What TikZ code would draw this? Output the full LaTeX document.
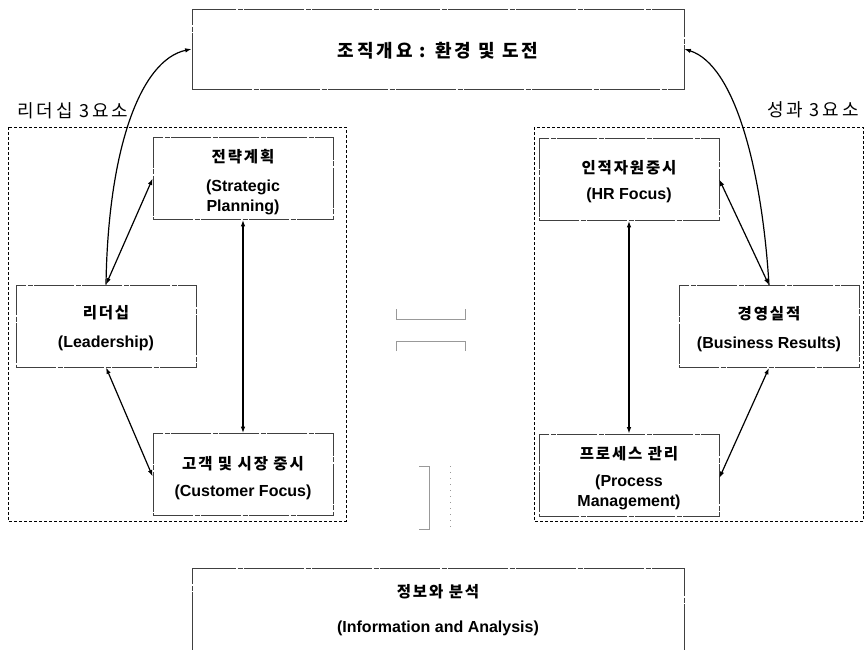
\documentclass[tikz,border=0pt]{standalone}
\usepackage{fontspec}
\setmainfont{Liberation Sans}
\newfontfamily\kr{Noto Sans CJK KR}[LetterSpace=12]
\newfontfamily\krtop{Noto Sans CJK KR}[LetterSpace=16]
\usetikzlibrary{arrows.meta}
\begin{document}
\begin{tikzpicture}[x=1pt,y=-1pt,
  box/.style={draw=black!75,line width=0.7pt,dash pattern=on 40pt off 1.5pt on 5pt off 1.5pt,inner sep=0pt,minimum width=180pt,minimum height=82pt},
  outer/.style={draw=black,line width=1pt,dash pattern=on 3pt off 2pt},
  en/.style={font=\fontsize{16}{18}\selectfont\bfseries,inner sep=0pt},
  ko/.style={font=\kr\fontsize{15.5}{18}\selectfont\bfseries,inner sep=0pt},
  lab/.style={font=\krtop\fontsize{18}{20}\selectfont,inner sep=0pt},
  arr/.style={line width=1.2pt,-{Latex[length=6.5pt,width=4.5pt]}},
  darr/.style={line width=1.2pt,{Latex[length=6.5pt,width=4.5pt]}-{Latex[length=6.5pt,width=4.5pt]}},
  faint/.style={draw=black!40,line width=0.8pt}]
\useasboundingbox (0,0) rectangle (866,649);
% top box
\node[draw=black!75,line width=0.7pt,dash pattern=on 60pt off 1.5pt on 5pt off 1.5pt,inner sep=0pt,minimum width=492pt,minimum height=80pt] (top) at (438,49) {};
\node[font=\krtop\fontsize{18}{20}\selectfont\bfseries,inner sep=0pt] (toptxt) at (438,51) {조직개요 : 환경 및 도전};
% group labels
\node[lab,anchor=west] (llab) at (17,111) {리더십 3요소};
\node[lab,anchor=east] (rlab) at (859,110) {성과 3요소};
% outer dashed boxes
\draw[outer] (8,127) rectangle (346,521);
\draw[outer] (534,127) rectangle (863,521);
% inner boxes
\node[box] (strat) at (243,178.5) {};
\node[ko] (stratk) at (243,157) {전략계획};
\node[en] (strate1) at (243,187) {(Strategic};
\node[en] (strate2) at (243,207) {Planning)};
\node[box] (lead) at (106,326) {};
\node[ko] (leadk) at (106,313) {리더십};
\node[en] (leade) at (106,343) {(Leadership)};
\node[box] (cust) at (243,474.5) {};
\node[ko] (custk) at (243,464) {고객 및 시장 중시};
\node[en] (custe) at (243,492) {(Customer Focus)};
\node[box] (hr) at (629,179.5) {};
\node[ko] (hrk) at (629,168) {인적자원중시};
\node[en] (hre) at (629,195) {(HR Focus)};
\node[box] (biz) at (769,326.5) {};
\node[ko] (bizk) at (769,314) {경영실적};
\node[en] (bize) at (769,344) {(Business Results)};
\node[box] (proc) at (629,475) {};
\node[ko] (prock) at (629,454) {프로세스 관리};
\node[en] (proce1) at (629,482) {(Process};
\node[en] (proce2) at (629,502) {Management)};
% info box
\coordinate (infoBL) at (192,652);
\coordinate (infoTL) at (192,568);
\coordinate (infoTR) at (684,568);
\coordinate (infoBR) at (684,652);
\draw[draw=black!75,line width=0.7pt,dash pattern=on 60pt off 1.5pt on 5pt off 1.5pt] (infoBL) -- (infoTL) -- (infoTR) -- (infoBR);
\node[ko] (infok) at (438,592) {정보와 분석};
\node[en] (infoe) at (438,628) {(Information and Analysis)};
% connectors
\draw[arr] (lead.north) .. controls (108,150) and (140,60) .. (top.west);
\draw[darr] (lead.north) -- (strat.west);
\draw[darr] (strat.south) -- (cust.north);
\draw[darr] (lead.south) -- ([yshift=-2pt]cust.west);
\draw[arr] (biz.north) .. controls (762,170) and (735,65) .. (top.east);
\draw[darr] (biz.north) -- (hr.east);
\draw[darr] (hr.south) -- (proc.north);
\draw[darr] (biz.south) -- ([yshift=-3pt]proc.east);
% faint remnants of block arrows in the middle
\draw[faint] (396,309) -- (396,319) -- (465,319) -- (465,309);
\draw[faint] (396,351) -- (396,341) -- (465,341) -- (465,351);
\draw[faint] (419,466) -- (429,466) -- (429,529) -- (419,529);
\draw[faint,dash pattern=on 1pt off 5pt] (450,466) -- (450,529);
\end{tikzpicture}
\end{document}
